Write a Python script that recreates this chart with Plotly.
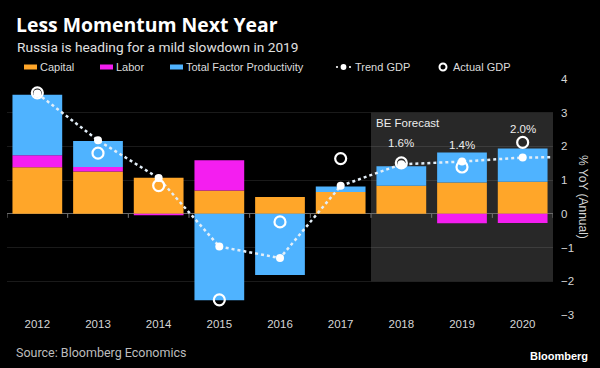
import plotly.graph_objects as go

# ---- data ----
years = [2012, 2013, 2014, 2015, 2016, 2017, 2018, 2019, 2020]
year_labels = [str(y) for y in years]
capital = [1.38, 1.26, 1.07, 0.69, 0.50, 0.65, 0.83, 0.93, 0.95]
labor = [0.36, 0.13, -0.04, 0.90, 0.0, 0.0, 0.0, -0.28, -0.27]
tfp = [1.79, 0.77, 0.0, -2.56, -1.81, 0.16, 0.58, 0.89, 0.99]
trend_x = [2012, 2013, 2014, 2015, 2016, 2017, 2018, 2019, 2020, 2020.5]
trend_gdp = [3.57, 2.18, 1.06, -0.97, -1.31, 0.83, 1.47, 1.55, 1.67, 1.68]
actual_gdp = [3.59, 1.80, 0.84, -2.55, -0.24, 1.64, 1.51, 1.39, 2.12]
forecast_years = [2018, 2019, 2020]
forecast_labels = ["1.6%", "1.4%", "2.0%"]
y_ticks = [-3, -2, -1, 0, 1, 2, 3, 4]

C_CAP = "#FFA629"
C_LAB = "#F41EF0"
C_TFP = "#4FB3FF"
C_TREND = "#E2EEF8"
TXT = "#D6D6D6"
FONT = "Liberation Sans, Arial, sans-serif"

W, H = 600, 368
ML, MR, MT, MB = 7, 47, 79, 53
PW, PH = W - ML - MR, H - MT - MB


def px(x):
    return (x - ML) / PW


def py(y):
    return 1 - (y - MT) / PH


fig = go.Figure()
fig.add_bar(x=years, y=capital, marker_color=C_CAP, name="Capital", marker_line_width=0)
fig.add_bar(x=years, y=labor, marker_color=C_LAB, name="Labor", marker_line_width=0)
fig.add_bar(x=years, y=tfp, marker_color=C_TFP, name="Total Factor Productivity", marker_line_width=0)
fig.add_scatter(x=trend_x, y=trend_gdp, mode="lines", line=dict(color=C_TREND, width=2.5, dash="3px,3px"),
                name="Trend GDP", hoverinfo="skip")
fig.add_scatter(x=trend_x[:len(years)], y=trend_gdp[:len(years)], mode="markers",
                marker=dict(color="white", size=8), name="Trend GDP pts")
fig.add_scatter(x=years, y=actual_gdp, mode="markers",
                marker=dict(symbol="circle-open", color="white", size=11, line=dict(width=2.2, color="white")),
                name="Actual GDP")

shapes = []
# forecast background
shapes.append(dict(type="rect", xref="x", yref="y", x0=2017.5, x1=2020.5, y0=-2, y1=3,
                   fillcolor="#282828", line_width=0, layer="below"))
# tick marks on zero line at category boundaries
for b in [2011.5 + i for i in range(10)]:
    shapes.append(dict(type="line", xref="x", yref="y", ysizemode="pixel", yanchor=0,
                       x0=b, x1=b, y0=0, y1=-4, line=dict(color="#777", width=1)))

annotations = []
annotations.append(dict(x=2017.5, y=3, xref="x", yref="y", xanchor="left", yanchor="top",
                        xshift=3, yshift=-2, text="BE Forecast", showarrow=False,
                        font=dict(family=FONT, size=11.5, color="#EDEDED")))
label_shift = [20, 22, 13]
for yr, lab, sh in zip(forecast_years, forecast_labels, label_shift):
    i = years.index(yr)
    annotations.append(dict(x=yr, y=actual_gdp[i], xref="x", yref="y", yshift=sh,
                            text=lab, showarrow=False, font=dict(family=FONT, size=11.5, color="#EDEDED")))

# titles
annotations.append(dict(x=px(14), y=py(25), xref="paper", yref="paper", xanchor="left", yanchor="middle",
                        text="<b>Less Momentum Next Year</b>", showarrow=False,
                        font=dict(family="Open Sans, sans-serif", size=19.4, color="white")))
annotations.append(dict(x=px(15), y=py(47), xref="paper", yref="paper", xanchor="left", yanchor="middle",
                        text="Russia is heading for a mild slowdown in 2019", showarrow=False,
                        font=dict(family="Roboto, sans-serif", size=13.7, color="#E0E0E0")))
annotations.append(dict(x=px(14), y=py(352), xref="paper", yref="paper", xanchor="left", yanchor="middle",
                        text="Source: Bloomberg Economics", showarrow=False,
                        font=dict(family="Roboto, sans-serif", size=12.5, color="#BDBDBD")))
annotations.append(dict(x=px(590), y=py(356), xref="paper", yref="paper", xanchor="right", yanchor="middle",
                        text="<b>Bloomberg</b>", showarrow=False,
                        font=dict(family=FONT, size=11, color="white")))
# right axis title
annotations.append(dict(x=px(583), y=0.5, xref="paper", yref="paper", xanchor="center", yanchor="middle",
                        text="% YoY (Annual)", textangle=90, showarrow=False,
                        font=dict(family=FONT, size=12, color=TXT)))

# custom legend
LY = 67
leg_font = dict(family=FONT, size=11, color="#DCDCDC")
for (x0, col, txt, tx) in [(24, C_CAP, "Capital", 38), (100, C_LAB, "Labor", 114),
                           (170, C_TFP, "Total Factor Productivity", 184)]:
    shapes.append(dict(type="rect", xref="paper", yref="paper", x0=px(x0), x1=px(x0 + 13),
                       y0=py(LY + 2.5), y1=py(LY - 2.5), fillcolor=col, line_width=0))
    annotations.append(dict(x=px(tx), y=py(LY), xref="paper", yref="paper", xanchor="left", yanchor="middle",
                            text=txt, showarrow=False, font=leg_font))
for cx, r in [(337, 1.1), (343.5, 2.9), (350, 1.1)]:
    shapes.append(dict(type="circle", xref="paper", yref="paper", x0=px(cx - r), x1=px(cx + r),
                       y0=py(LY + r), y1=py(LY - r), fillcolor="white", line_width=0))
annotations.append(dict(x=px(353), y=py(LY), xref="paper", yref="paper", xanchor="left", yanchor="middle",
                        text="Trend GDP", showarrow=False, font=leg_font))
shapes.append(dict(type="circle", xref="paper", yref="paper", x0=px(443 - 3.5), x1=px(443 + 3.5),
                   y0=py(LY + 3.5), y1=py(LY - 3.5), line=dict(color="white", width=2)))
annotations.append(dict(x=px(451), y=py(LY), xref="paper", yref="paper", xanchor="left", yanchor="middle",
                        text="Actual GDP", showarrow=False, font=leg_font))

fig.update_layout(
    width=W, height=H,
    margin=dict(l=ML, r=MR, t=MT, b=MB),
    paper_bgcolor="black", plot_bgcolor="black",
    barmode="relative", bargap=0.18,
    showlegend=False, hovermode=False,
    shapes=shapes, annotations=annotations,
    font=dict(family=FONT, color=TXT),
    xaxis=dict(range=[2011.5, 2020.5], tickmode="array", tickvals=years, ticktext=year_labels,
               showgrid=False, zeroline=False, showline=False, ticks="",
               tickfont=dict(family=FONT, size=11.5, color=TXT), fixedrange=True),
    yaxis=dict(range=[-3, 4], side="right", tickmode="array", tickvals=y_ticks,
               showgrid=True, gridcolor="rgba(255,255,255,0.10)", gridwidth=1,
               zeroline=True, zerolinecolor="#6a6a6a", zerolinewidth=1,
               showline=False, ticks="", ticklabelstandoff=7,
               tickfont=dict(family=FONT, size=11.5, color=TXT), fixedrange=True),
)

fig.write_html("out.html", config={"displayModeBar": False, "staticPlot": True},
               post_script="document.body.style.margin='0';document.body.style.padding='0';"
                           "document.body.style.overflow='hidden';document.body.style.background='black';")
